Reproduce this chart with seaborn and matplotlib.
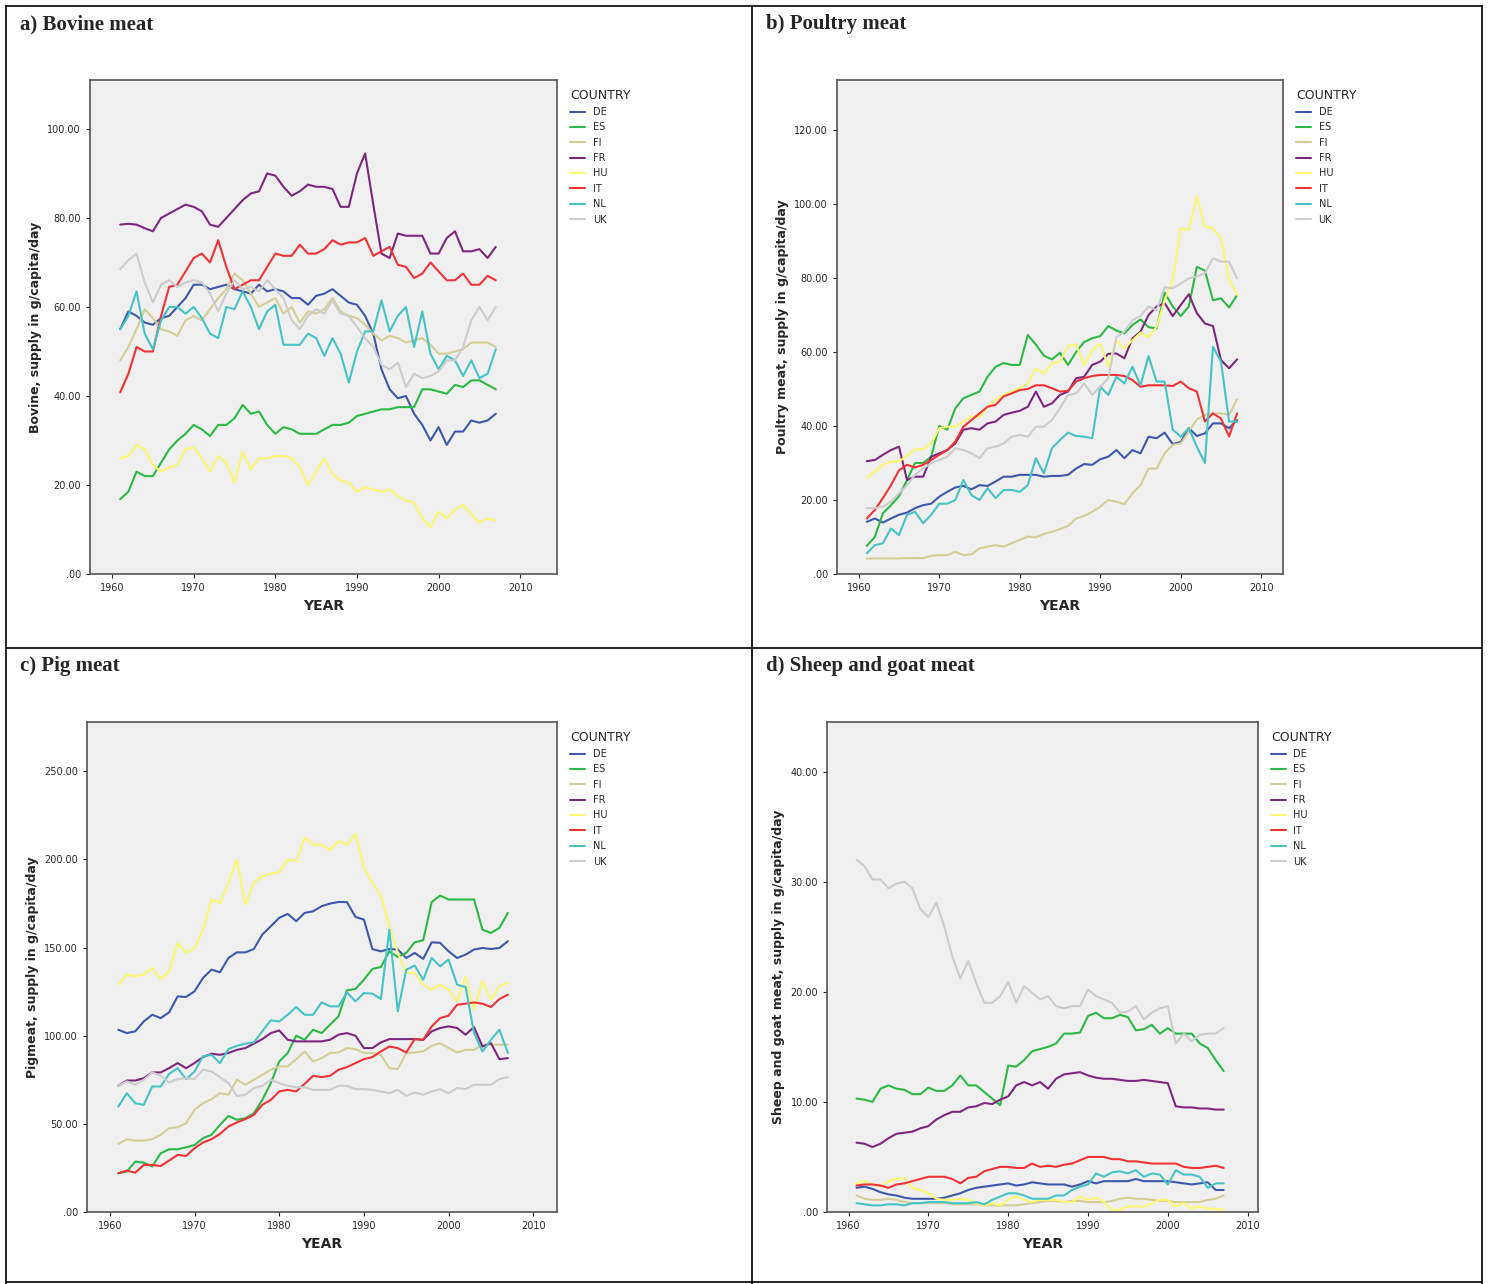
import numpy as np
import pandas as pd
import matplotlib
matplotlib.use('Agg')
import matplotlib.pyplot as plt
import seaborn as sns

years = list(range(1961, 2008))
countries = ['DE', 'ES', 'FI', 'FR', 'HU', 'IT', 'NL', 'UK']
palette = {'DE': '#3E58AC', 'ES': '#2EB848', 'FI': '#D3CE97', 'FR': '#7C287D',
           'HU': '#FBF873', 'IT': '#EF3338', 'NL': '#48C2C5', 'UK': '#CCCCCC'}

# a) Bovine meat
bovine_de = [55, 59, 58, 56.5, 56, 57.5, 58, 60, 62, 65, 65, 64, 64.5, 65, 64, 63.5, 63, 65, 63.5, 64, 63.5, 62, 62, 60.5, 62.5, 63, 64, 62.5, 61, 60.5, 58, 54, 46, 41.5, 39.5, 40, 36, 33.5, 30, 33, 29, 32, 32, 34.5, 34, 34.5, 36]
bovine_es = [16.8, 18.5, 23, 22, 22, 25, 28, 30, 31.5, 33.5, 32.5, 31, 33.5, 33.5, 35, 38, 36, 36.5, 33.5, 31.5, 33, 32.5, 31.5, 31.5, 31.5, 32.5, 33.5, 33.5, 34, 35.5, 36, 36.5, 37, 37, 37.5, 37.5, 37.5, 41.5, 41.5, 41, 40.5, 42.5, 42, 43.5, 43.5, 42.5, 41.5]
bovine_fi = [48, 51, 55, 59.5, 57.5, 55, 54.5, 53.5, 57, 58, 57, 59.5, 62, 64, 67.5, 66, 63, 60, 61, 62, 58.5, 60, 56.5, 59, 58.5, 59.5, 62, 59, 58, 57.5, 56, 54, 52.5, 53.5, 53, 52, 52.5, 53, 51.5, 49.5, 49.5, 50, 50.5, 52, 52, 52, 51]
bovine_fr = [78.5, 78.7, 78.5, 77.7, 77, 80, 81, 82, 83, 82.5, 81.5, 78.5, 78, 80, 82, 84, 85.5, 86, 90, 89.5, 87, 85, 86, 87.5, 87, 87, 86.5, 82.5, 82.5, 90, 94.5, 83, 72, 71, 76.5, 76, 76, 76, 72, 72, 75.5, 77, 72.5, 72.5, 73, 71, 73.5]
bovine_hu = [26, 26.5, 29, 28, 24.5, 23, 24, 24.5, 28, 28.5, 26, 23, 26.5, 25, 20.5, 27.5, 23.5, 26, 26, 26.5, 26.5, 26, 24, 20, 23, 26, 22.5, 21, 20.5, 18.5, 19.5, 19, 18.5, 19, 17.5, 16.5, 16, 12.5, 10.5, 14, 12.5, 14.5, 15.5, 13.5, 11.5, 12.5, 12]
bovine_it = [40.8, 45, 51, 50, 50, 58, 64.5, 65, 68, 71, 72, 70, 75, 69, 64, 65, 66, 66, 69, 72, 71.5, 71.5, 74, 72, 72, 73, 75, 74, 74.5, 74.5, 75.5, 71.5, 72.5, 73.5, 69.5, 69, 66.5, 67.5, 70, 68, 66, 66, 67.5, 65, 65, 67, 66]
bovine_nl = [55, 58, 63.5, 54, 50.5, 57, 60, 60, 58.5, 60, 57.5, 54, 53, 60, 59.5, 63.5, 60, 55, 59, 60.5, 51.5, 51.5, 51.5, 54, 53, 49, 53, 49.5, 43, 50, 54.5, 54.5, 61.5, 54.5, 58, 60, 51, 59, 49.5, 46, 49, 48, 44.5, 48, 44, 45, 50.5]
bovine_uk = [68.5, 70.5, 72, 65.5, 61, 65, 66, 64.5, 65.5, 66, 65.5, 63, 59, 63, 66, 64, 64.5, 63.5, 66, 64, 62, 57, 55, 58, 59.5, 58.5, 61.5, 58.5, 58, 55.5, 53, 51, 47, 46, 47.5, 42, 45, 44, 44.5, 45.5, 48, 48, 51, 57, 60, 57, 60]

# b) Poultry meat
poultry_de = [14.1, 15, 13.9, 15, 16, 16.6, 17.8, 18.6, 19, 20.9, 22.2, 23.4, 23.8, 22.9, 24, 23.8, 25, 26.3, 26.3, 26.8, 26.8, 26.8, 26.3, 26.5, 26.5, 26.8, 28.5, 29.7, 29.5, 31, 31.7, 33.5, 31.3, 33.5, 32.6, 37.1, 36.7, 38.2, 35.1, 35.7, 39.4, 37.3, 38, 40.7, 40.7, 39.4, 41.6]
poultry_es = [7.6, 10, 16.4, 18.6, 21, 25.4, 30, 30, 31.7, 40, 39, 44.8, 47.5, 48.4, 49.3, 53.3, 56, 57, 56.5, 56.5, 64.6, 62, 59, 58, 59.8, 56.5, 60, 62.7, 63.7, 64.3, 67, 65.8, 65, 67.3, 68.8, 66.7, 66.4, 76, 72.3, 69.7, 72.3, 83, 82, 74, 74.5, 72, 75.4]
poultry_fi = [4.2, 4.2, 4.2, 4.2, 4.2, 4.3, 4.3, 4.3, 4.9, 5.1, 5.1, 6, 5.1, 5.3, 6.9, 7.4, 7.8, 7.4, 8.3, 9.2, 10.1, 9.9, 10.8, 11.4, 12.1, 13, 15, 15.7, 16.8, 18.2, 20, 19.5, 18.9, 21.8, 24, 28.5, 28.5, 32.6, 34.9, 35.3, 38.5, 41.8, 43, 43.4, 43.4, 43, 47.2]
poultry_fr = [30.5, 30.8, 32.2, 33.5, 34.4, 25.4, 26.3, 26.3, 31.7, 32.6, 33.5, 35.3, 39, 39.4, 39, 40.7, 41.2, 43, 43.6, 44.1, 45.2, 49.3, 45.2, 46.1, 48.4, 49.3, 52.9, 53.3, 56.5, 57.4, 59.5, 59.6, 58.3, 63.7, 65.5, 70, 72.3, 73.2, 69.7, 72.7, 75.6, 70.5, 67.7, 67, 57.8, 55.6, 58]
poultry_hu = [26, 27.7, 29.5, 30.4, 30.4, 32, 33.7, 33.7, 35.3, 39.4, 39.8, 39.8, 41.2, 42.5, 42.5, 45.2, 47, 48.4, 49.3, 50.2, 51.5, 55.5, 54.2, 57, 57.4, 61.7, 62, 56.5, 60.5, 62.3, 56, 63.2, 61, 63.2, 65.2, 64, 66.8, 74, 79.5, 93.4, 93, 102, 93.9, 93.4, 90.7, 79.5, 75.4]
poultry_it = [15, 17.3, 20.5, 24, 28, 29.5, 28.8, 29.5, 30.8, 32.2, 33.5, 35.8, 39.8, 41.6, 43.4, 45.2, 45.7, 48, 48.8, 49.7, 50, 51, 51, 50.2, 49.3, 49.5, 52, 52.9, 53.5, 53.8, 53.8, 53.8, 53.5, 52.4, 50.6, 51, 51, 51, 50.8, 52, 50.2, 49.3, 41.2, 43.4, 42, 37.2, 43.4]
poultry_nl = [5.6, 7.8, 8.3, 12.3, 10.5, 16, 16.8, 13.7, 16, 19, 19, 20, 25.4, 21.3, 20, 23.2, 20.5, 22.7, 22.7, 22.2, 24, 31.3, 27.2, 34, 36.2, 38.2, 37.3, 37.1, 36.7, 50.6, 48.4, 53.3, 51.5, 56, 51, 58.9, 52, 52, 39, 37.1, 39.4, 34.4, 30, 61.4, 57.4, 41.2, 41.2]
poultry_uk = [17.8, 17.8, 18.2, 19.5, 21.8, 24, 26.8, 28.5, 30, 30.8, 31.7, 34, 33.5, 32.6, 31.3, 34, 34.4, 35.3, 37.1, 37.6, 37.1, 39.8, 39.8, 41.6, 44.8, 48.4, 48.8, 51.5, 48.4, 50.6, 52.9, 64, 65.5, 68.6, 69.7, 72.3, 71.3, 77.5, 77.2, 78.5, 79.9, 80.4, 81.3, 85.3, 84.4, 84.4, 79.9]

# c) Pig meat
pig_de = [103.4, 101.5, 102.5, 108.1, 111.9, 110, 113.3, 122.3, 122, 125.2, 132.8, 137.5, 136, 144.1, 147.3, 147.3, 149.2, 157.4, 162.1, 166.9, 169.1, 165, 169.7, 170.6, 173.5, 175, 175.9, 175.8, 167.4, 165.9, 149.2, 147.9, 149.2, 148.9, 144.1, 147, 143.6, 153, 152.7, 147.9, 144.1, 146, 148.9, 149.8, 149.2, 149.8, 153.6]
pig_es = [22, 22.9, 28.6, 28, 25.8, 33.3, 35.6, 35.6, 36.7, 38, 41.9, 43.8, 49.4, 54.5, 52.3, 53.2, 56, 63.6, 73.1, 85.4, 90.2, 100, 97.7, 103.4, 101.5, 106.3, 111, 125.8, 126.5, 131.8, 137.9, 139, 147.9, 144.7, 147, 153, 154.2, 175.8, 179.5, 177.3, 177.3, 177.3, 177.3, 160.2, 158.3, 161.2, 169.7]
pig_fi = [38.6, 41.3, 40.5, 40.5, 41.3, 43.8, 47.5, 48.1, 50.4, 58, 61.7, 64, 67.4, 66.5, 75, 72.2, 75, 77.8, 80.7, 82.6, 82.6, 86.7, 91.1, 85.4, 87.3, 90.2, 90.5, 93, 92.4, 90.2, 90.2, 89.2, 81.6, 81.1, 90.2, 90.5, 91.1, 94.3, 95.8, 93, 90.5, 92, 92, 94.9, 94.9, 94.9, 94.9]
pig_fr = [71.6, 74.6, 74.6, 75.9, 79.2, 79.2, 81.6, 84.5, 81.6, 84.5, 87.9, 89.8, 89.2, 90.2, 92, 93, 95.5, 98.1, 101.5, 103, 97.7, 96.8, 96.8, 96.8, 96.8, 97.7, 100.6, 101.5, 100, 93, 93, 96.2, 98.1, 98.1, 98.1, 98.1, 97.7, 102.5, 104.4, 105.3, 104.4, 100.6, 104.9, 93.9, 95.8, 86.7, 87.3]
pig_hu = [129, 134.7, 133.7, 134.7, 138.4, 132.2, 136.6, 152.7, 147, 149.8, 160.2, 177.3, 175.4, 186.7, 200, 174.4, 186.7, 190.5, 192, 192.8, 200, 199, 212.3, 208.5, 208.5, 205.3, 210.4, 208.5, 214.2, 195.3, 186.7, 179.2, 162.1, 147, 135.6, 135.6, 129, 126.1, 129, 126.1, 119.5, 133.7, 114.8, 130.9, 120.5, 128, 130]
pig_it = [22, 23.5, 22.3, 26.7, 26.7, 26.1, 29.2, 32.4, 31.8, 36.2, 39.4, 41.3, 44.3, 48.5, 50.8, 52.7, 55.1, 60.8, 63.6, 68.4, 69.3, 68.4, 72.7, 77.3, 76.5, 77.3, 80.7, 82.2, 84.5, 86.7, 87.9, 91.1, 93.9, 93, 90.5, 98.1, 97.7, 105.3, 110, 111.4, 117.6, 118.2, 118.9, 118.2, 116.3, 120.8, 123.3]
pig_nl = [59.8, 67.4, 61.7, 60.8, 71.2, 71.2, 78.4, 81.6, 75.4, 79.7, 88.3, 89.2, 84.5, 92.4, 94.3, 95.5, 96.2, 102.5, 108.7, 108.1, 111.9, 116.3, 111.9, 111.9, 118.9, 116.7, 116.7, 124.6, 119.5, 124.2, 123.9, 120.8, 160.2, 113.8, 137.5, 139.8, 131.8, 144.1, 139.4, 143.2, 129, 127.7, 101.5, 91.1, 97.7, 103.4, 90.2]
pig_uk = [71.6, 74.1, 72.2, 75, 79.2, 77.3, 73.5, 75.4, 75.9, 75.4, 80.7, 79.7, 76.5, 73.1, 65.9, 66.5, 70.3, 71.6, 75, 73.1, 71.6, 70.8, 70.8, 69.3, 69.3, 69.3, 71.6, 71.6, 69.7, 69.7, 69.3, 68.4, 67.4, 69.3, 65.9, 67.8, 66.5, 68.4, 69.7, 67.4, 70.3, 69.7, 72.2, 72.2, 72.2, 75.4, 76.5]

# d) Sheep and goat meat
sheep_de = [2.2, 2.3, 2.1, 1.8, 1.6, 1.5, 1.3, 1.2, 1.2, 1.2, 1.2, 1.3, 1.5, 1.7, 2, 2.2, 2.3, 2.4, 2.5, 2.6, 2.4, 2.5, 2.7, 2.6, 2.5, 2.5, 2.5, 2.3, 2.5, 2.8, 2.6, 2.8, 2.8, 2.8, 2.8, 3, 2.8, 2.8, 2.8, 2.8, 2.7, 2.6, 2.5, 2.6, 2.7, 2, 2]
sheep_es = [10.3, 10.2, 10, 11.2, 11.5, 11.2, 11.1, 10.7, 10.7, 11.3, 11, 11, 11.5, 12.4, 11.5, 11.5, 10.9, 10.3, 9.7, 13.3, 13.2, 13.8, 14.6, 14.8, 15, 15.3, 16.2, 16.2, 16.3, 17.8, 18.1, 17.6, 17.6, 17.9, 17.7, 16.5, 16.6, 17, 16.2, 16.7, 16.2, 16.2, 16.2, 15.3, 14.9, 13.8, 12.8]
sheep_fi = [1.5, 1.2, 1.1, 1.1, 1.2, 1.1, 0.9, 0.8, 0.8, 0.8, 0.8, 0.8, 0.7, 0.7, 0.7, 0.7, 0.6, 0.6, 0.6, 0.6, 0.6, 0.7, 0.8, 0.9, 1, 1, 0.9, 1, 1, 0.9, 0.9, 0.9, 1, 1.2, 1.3, 1.2, 1.2, 1.1, 1, 1, 0.9, 0.9, 0.9, 0.9, 1.1, 1.2, 1.5]
sheep_fr = [6.3, 6.2, 5.9, 6.2, 6.7, 7.1, 7.2, 7.3, 7.6, 7.8, 8.4, 8.8, 9.1, 9.1, 9.5, 9.6, 9.9, 9.8, 10.2, 10.5, 11.5, 11.8, 11.5, 11.8, 11.2, 12.1, 12.5, 12.6, 12.7, 12.4, 12.2, 12.1, 12.1, 12, 11.9, 11.9, 12, 11.9, 11.8, 11.7, 9.6, 9.5, 9.5, 9.4, 9.4, 9.3, 9.3]
sheep_hu = [2.6, 2.8, 2.5, 2.3, 2.8, 3, 3.1, 2.2, 2, 1.7, 1.2, 1.1, 1.1, 1.2, 1.1, 0.8, 0.6, 0.8, 0.6, 1.1, 1.4, 1.1, 0.9, 1.1, 1.1, 1.1, 0.9, 0.9, 1.4, 1.1, 1.3, 0.9, 0.2, 0.2, 0.5, 0.5, 0.5, 0.8, 1.1, 1.1, 0.5, 0.8, 0.3, 0.5, 0.3, 0.3, 0.2]
sheep_it = [2.4, 2.5, 2.5, 2.4, 2.2, 2.5, 2.6, 2.8, 3, 3.2, 3.2, 3.2, 3, 2.6, 3.1, 3.2, 3.7, 3.9, 4.1, 4.1, 4, 4, 4.4, 4.1, 4.2, 4.1, 4.3, 4.4, 4.7, 5, 5, 5, 4.8, 4.8, 4.6, 4.6, 4.5, 4.4, 4.4, 4.4, 4.4, 4.1, 4, 4, 4.1, 4.2, 4]
sheep_nl = [0.8, 0.7, 0.6, 0.6, 0.7, 0.7, 0.6, 0.8, 0.8, 0.9, 0.9, 0.9, 0.8, 0.8, 0.8, 0.9, 0.7, 1.1, 1.4, 1.7, 1.7, 1.5, 1.2, 1.2, 1.2, 1.5, 1.5, 2, 2.3, 2.5, 3.5, 3.2, 3.6, 3.7, 3.5, 3.8, 3.2, 3.5, 3.4, 2.5, 3.8, 3.4, 3.4, 3.2, 2.2, 2.6, 2.6]
sheep_uk = [32, 31.4, 30.2, 30.2, 29.4, 29.8, 30, 29.4, 27.5, 26.8, 28.1, 25.9, 23.2, 21.2, 22.8, 20.8, 19, 19, 19.6, 20.9, 19, 20.5, 19.9, 19.3, 19.6, 18.7, 18.5, 18.7, 18.7, 20.2, 19.6, 19.3, 19, 18.1, 18.2, 18.7, 17.5, 18.1, 18.5, 18.7, 15.3, 16.2, 15.5, 16.1, 16.2, 16.2, 16.7]

panels = [
    ('a) Bovine meat', 'Bovine, supply in g/capita/day',
     [bovine_de, bovine_es, bovine_fi, bovine_fr, bovine_hu, bovine_it, bovine_nl, bovine_uk],
     [0, 20, 40, 60, 80, 100], 111, 2014.5, [90, 80, 557, 574]),
    ('b) Poultry meat', 'Poultry meat, supply in g/capita/day',
     [poultry_de, poultry_es, poultry_fi, poultry_fr, poultry_hu, poultry_it, poultry_nl, poultry_uk],
     [0, 20, 40, 60, 80, 100, 120], 133.5, 2012.7, [837, 80, 1283, 574]),
    ('c) Pig meat', 'Pigmeat, supply in g/capita/day',
     [pig_de, pig_es, pig_fi, pig_fr, pig_hu, pig_it, pig_nl, pig_uk],
     [0, 50, 100, 150, 200, 250], 278, 2012.8, [87, 722, 557, 1212]),
    ('d) Sheep and goat meat', 'Sheep and goat meat, supply in g/capita/day',
     [sheep_de, sheep_es, sheep_fi, sheep_fr, sheep_hu, sheep_it, sheep_nl, sheep_uk],
     [0, 10, 20, 30, 40], 44.5, 2011.3, [827, 722, 1258, 1212]),
]

W, H = 1489, 1284
fig = plt.figure(figsize=(W / 100, H / 100), dpi=100)
sns.set_style('white')
plt.rcParams['font.family'] = ['DejaVu Sans']

# table borders
for x in [6, 752, 1482]:
    fig.add_artist(plt.Line2D([x / W, x / W], [0, 1 - 6 / H], color='black', lw=1.2))
for y in [6, 648, 1282]:
    fig.add_artist(plt.Line2D([6 / W, 1482 / W], [1 - y / H, 1 - y / H], color='black', lw=1.2))

title_pos = [(20, 24), (766, 24), (20, 666), (766, 666)]

for (title, ylab, series, yticks, ytop, xright, box), (tx, ty) in zip(panels, title_pos):
    fig.text(tx / W, 1 - ty / H, title, fontsize=15, fontweight='bold',
             family=['Liberation Serif'], va='center', ha='left')
    l, t, r, b = box
    ax = fig.add_axes([l / W, 1 - b / H, (r - l) / W, (b - t) / H])
    rows = []
    for c, vals in zip(countries, series):
        for yr, v in zip(years, vals):
            rows.append((yr, v, c))
    df = pd.DataFrame(rows, columns=['YEAR', 'VALUE', 'COUNTRY'])
    sns.lineplot(data=df, x='YEAR', y='VALUE', hue='COUNTRY', palette=palette,
                 hue_order=countries, lw=1.5, ax=ax)
    ax.set_facecolor('#F0F0F0')
    ax.set_xlim(1957.3, xright)
    ax.set_ylim(0, ytop)
    ax.set_xticks([1960, 1970, 1980, 1990, 2000, 2010])
    ax.set_yticks(yticks)
    ax.set_yticklabels(['.00' if v == 0 else f'{v:.2f}' for v in yticks])
    ax.tick_params(labelsize=7, length=3, direction='out', left=True, bottom=True)
    for s in ax.spines.values():
        s.set_color('#555555')
        s.set_linewidth(1.2)
    ax.set_xlabel('YEAR', fontsize=10, fontweight='bold', family=['Liberation Sans Narrow', 'DejaVu Sans'])
    ax.set_ylabel(ylab, fontsize=9, fontweight='bold')
    leg = ax.legend(title='COUNTRY', loc='upper left', bbox_to_anchor=(1.01, 1.0),
                    frameon=False, fontsize=7, title_fontsize=9, handlelength=1.5,
                    labelspacing=0.55)
    leg._legend_box.align = 'left'

fig.savefig('out.png', dpi=100, facecolor='white')
